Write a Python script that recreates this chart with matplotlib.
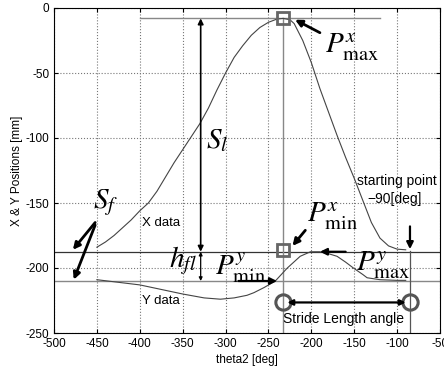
import numpy as np
import matplotlib.pyplot as plt

plt.rcParams['font.family'] = ['Liberation Sans', 'DejaVu Sans']
plt.rcParams['mathtext.fontset'] = 'stix'
plt.rcParams['axes.unicode_minus'] = False

# X data (theta2 [deg] -> position [mm])
x_theta = [-450, -440, -430, -420, -410, -400, -390, -380, -370, -360, -350, -340,
           -330, -320, -310, -300, -290, -280, -270, -260, -250, -240, -233, -225,
           -220, -210, -200, -190, -180, -170, -160, -150, -140, -130, -120, -110,
           -100, -90]
x_pos = [-184, -180, -175, -169, -163, -156, -150, -141, -130, -119, -109, -99,
         -89, -77, -63, -50, -38, -29, -21, -15, -11, -8.5, -8, -9,
         -12, -25, -42, -62, -80, -98, -115, -131, -148, -165, -177, -183,
         -185.5, -186]

# Y data
y_theta = [-450, -425, -400, -375, -350, -325, -306, -290, -275, -267, -255, -242,
           -228, -213, -201, -190, -180, -170, -160, -151, -140, -135, -120, -100, -90]
y_pos = [-209, -211, -213, -216.5, -220, -223, -224, -223, -221, -219, -215, -210,
         -200, -191, -187.5, -187.5, -189, -191, -195.5, -200, -205, -207.5, -209, -209.5, -209.5]

x_ticks = [-500, -450, -400, -350, -300, -250, -200, -150, -100, -50]
y_ticks = [0, -50, -100, -150, -200, -250]

fig = plt.figure(figsize=(4.44, 3.7), dpi=100)
ax = fig.add_axes([54 / 444, 37 / 370, 386 / 444, 325 / 370])

# guide lines
ax.axhline(-187.5, color='#333333', lw=0.9)
ax.axhline(-210, color='#888888', lw=1.0)
ax.plot([-400, -120], [-8, -8], color='#888888', lw=1.0)
ax.plot([-233, -233], [-8, -250], color='#888888', lw=1.0)
ax.plot([-85, -85], [-187, -250], color='#555555', lw=0.9)

# curves
ax.plot(x_theta, x_pos, color='#444444', lw=0.8)
ax.plot(y_theta, y_pos, color='#444444', lw=0.8)

# markers
ax.plot([-233, -233], [-8, -186], ls='none', marker='s', ms=9, mfc='none',
        mec='#666666', mew=2)
ax.plot([-233, -85], [-226.5, -226.5], ls='none', marker='o', ms=11, mfc='none',
        mec='#555555', mew=2.2)

def arrow(x0, y0, x1, y1, lw=1.6, style='-|>', ms=10):
    ax.annotate('', xy=(x1, y1), xytext=(x0, y0),
                arrowprops=dict(arrowstyle=style, color='black', lw=lw,
                                mutation_scale=ms, shrinkA=0, shrinkB=0))

# S_l and h_fl arrows
arrow(-329, -187.5, -329, -8, lw=1.2, style='<|-|>', ms=8)
arrow(-329, -187.5, -329, -210, lw=0.9, style='<|-|>', ms=5)
# S_f arrows
arrow(-452, -165, -478, -186, lw=2)
arrow(-452, -167, -477, -209, lw=2)
# P labels arrows
arrow(-190, -19, -219, -9, lw=2)
arrow(-207, -171, -222, -183, lw=2)
arrow(-285, -210, -240, -210, lw=1.6)
arrow(-160, -187.5, -190, -187.5, lw=1.6)
arrow(-85, -168, -85, -185.5, lw=1.6)
# stride length
arrow(-228, -226.5, -90, -226.5, lw=1.6, style='<|-|>', ms=8)

# labels
big = 21
ax.text(-310, -102, r'$S_l$', fontsize=big, ha='center', va='center')
ax.text(-440, -150, r'$S_f$', fontsize=big, ha='center', va='center')
ax.text(-350, -194, r'$h_{fl}$', fontsize=big, ha='center', va='center')
ax.text(-184, -30, r'$P^{x}_{\mathrm{max}}$', fontsize=big, ha='left', va='center')
ax.text(-205, -160, r'$P^{x}_{\mathrm{min}}$', fontsize=big, ha='left', va='center')
ax.text(-312, -200, r'$P^{y}_{\mathrm{min}}$', fontsize=big, ha='left', va='center')
ax.text(-148, -198, r'$P^{y}_{\mathrm{max}}$', fontsize=big, ha='left', va='center')
ax.text(-375, -165, 'X data', fontsize=9.5, ha='center', va='center')
ax.text(-375, -225, 'Y data', fontsize=9.5, ha='center', va='center')
ax.text(-147, -133, 'starting point', fontsize=10, ha='left', va='center')
ax.text(-103, -147, '\u221290[deg]', fontsize=10, ha='center', va='center')
ax.text(-163, -239, 'Stride Length angle', fontsize=10, ha='center', va='center')

ax.set_xlim(-500, -50)
ax.set_ylim(-250, 0)
ax.set_xticks(x_ticks)
ax.set_yticks(y_ticks)
ax.grid(True, ls=':', color='#777777', lw=0.8)
ax.tick_params(direction='in', top=True, right=True, labelsize=8.5, length=3)
ax.set_xlabel('theta2 [deg]', fontsize=8.5, labelpad=3)
ax.set_ylabel('X & Y Positions [mm]', fontsize=8.5, labelpad=2)

fig.savefig('out.png', dpi=100)
